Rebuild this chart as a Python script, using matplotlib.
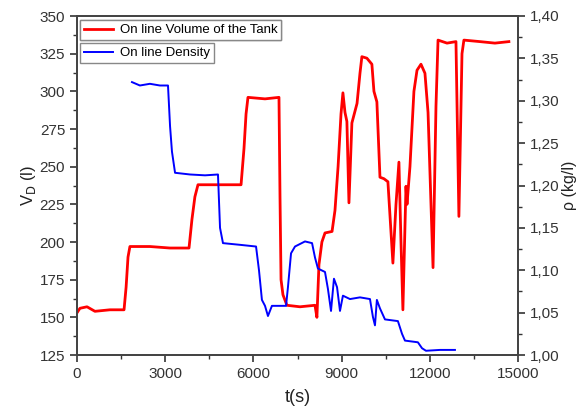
import matplotlib
matplotlib.use("Agg")
import matplotlib.pyplot as plt
from matplotlib.ticker import MultipleLocator, FuncFormatter

plt.rcParams["font.family"] = ["Liberation Sans", "DejaVu Sans"]

# volume of the tank, left axis
t_vol = [0, 100, 340, 610, 1120, 1600, 1670, 1735, 1800, 2480, 3160, 3810, 3910,
         4010, 4115, 4860, 5580, 5680, 5750, 5815, 6395, 6870, 6905, 6940, 7005,
         7140, 7585, 8095, 8160, 8230, 8330, 8435, 8675, 8775, 8880, 8980, 9045,
         9115, 9180, 9250, 9350, 9525, 9625, 9690, 9860, 10030, 10100, 10200,
         10305, 10440, 10575, 10745, 10850, 10950, 11020, 11085, 11155, 11190,
         11225, 11325, 11460, 11565, 11700, 11835, 11940, 12110, 12210, 12280,
         12585, 12890, 12990, 13095, 13160, 13705, 14215, 14690]
vol = [153, 156, 157, 154, 155, 155, 170, 190, 197, 197, 196, 196, 215,
       230, 238, 238, 238, 262, 285, 296, 295, 296, 230, 175, 165,
       158, 157, 158, 150, 185, 200, 206, 207, 221, 250, 285, 299,
       286, 280, 226, 279, 292, 312, 323, 322, 318, 300, 293,
       243, 242, 240, 186, 225, 253, 200, 155, 210, 237,
       225, 250, 300, 314, 318, 312, 286, 183, 290, 334,
       332, 333, 217, 325, 334, 333, 332, 333]

# density, right axis
t_rho = [1870, 2140, 2480, 2820, 3095, 3165, 3230, 3335, 3845, 4355, 4795, 4865,
         4965, 5545, 6090, 6190, 6290, 6395, 6495, 6630, 7110, 7175, 7280, 7415,
         7755, 7995, 8095, 8195, 8435, 8535, 8640, 8740, 8845, 8945, 9045, 9285,
         9625, 9965, 10065, 10135, 10200, 10305, 10475, 10915, 11055, 11155,
         11595, 11735, 11870, 12345, 12855]
rho = [1.322, 1.318, 1.320, 1.318, 1.318, 1.270, 1.240, 1.215, 1.213, 1.212, 1.213, 1.150,
       1.132, 1.130, 1.128, 1.100, 1.065, 1.058, 1.046, 1.058, 1.058, 1.080, 1.120, 1.128,
       1.134, 1.132, 1.115, 1.102, 1.098, 1.078, 1.052, 1.090, 1.080, 1.052, 1.070, 1.066,
       1.068, 1.066, 1.045, 1.035, 1.065, 1.055, 1.042, 1.040, 1.025, 1.017,
       1.015, 1.008, 1.005, 1.006, 1.006]

fig = plt.figure(figsize=(5.8, 4.11), dpi=100)
ax = fig.add_axes([77 / 580, 1 - 355 / 411, 441 / 580, 339 / 411])
ax2 = ax.twinx()

l1, = ax.plot(t_vol, vol, color="#ff0000", lw=2.0, label="On line Volume of the Tank")
l2, = ax2.plot(t_rho, rho, color="#0000ff", lw=1.4, label="On line Density")

ax.set_xlim(0, 15000)
ax.set_ylim(125, 350)
ax2.set_ylim(1.0, 1.4)

ax.xaxis.set_major_locator(MultipleLocator(3000))
ax.xaxis.set_minor_locator(MultipleLocator(1500))
ax.yaxis.set_major_locator(MultipleLocator(25))
ax.yaxis.set_minor_locator(MultipleLocator(12.5))
ax2.yaxis.set_major_locator(MultipleLocator(0.05))
ax2.yaxis.set_minor_locator(MultipleLocator(0.025))
ax2.yaxis.set_major_formatter(FuncFormatter(lambda v, p: f"{v:.2f}".replace(".", ",")))

for a in (ax, ax2):
    a.tick_params(which="major", direction="out", length=5, width=1.2,
                  labelsize=11, colors="#333333", labelcolor="#333333")
    a.tick_params(which="minor", direction="out", length=3, width=1.0, colors="#333333")
    for s in a.spines.values():
        s.set_linewidth(1.3)
        s.set_color("#444444")

ax.set_xlabel("t(s)", fontsize=13, color="#222222", labelpad=6)
ax.set_ylabel("V$_\\mathrm{D}$ (l)", fontsize=12, color="#222222", labelpad=1)
ax2.set_ylabel("ρ (kg/l)", fontsize=11.5, color="#222222", labelpad=2)

leg1 = ax.legend(handles=[l1], loc="upper left", bbox_to_anchor=(0.007, 0.988),
                 borderaxespad=0, fontsize=9.5, fancybox=False, edgecolor="#888888",
                 framealpha=1, handlelength=2.2, borderpad=0.3, handletextpad=0.5)
ax.add_artist(leg1)
ax2.legend(handles=[l2], loc="upper left", bbox_to_anchor=(0.007, 0.920),
           borderaxespad=0, fontsize=9.5, fancybox=False, edgecolor="#888888",
           framealpha=1, handlelength=2.2, borderpad=0.3, handletextpad=0.5)

fig.savefig("out.png", dpi=100)
